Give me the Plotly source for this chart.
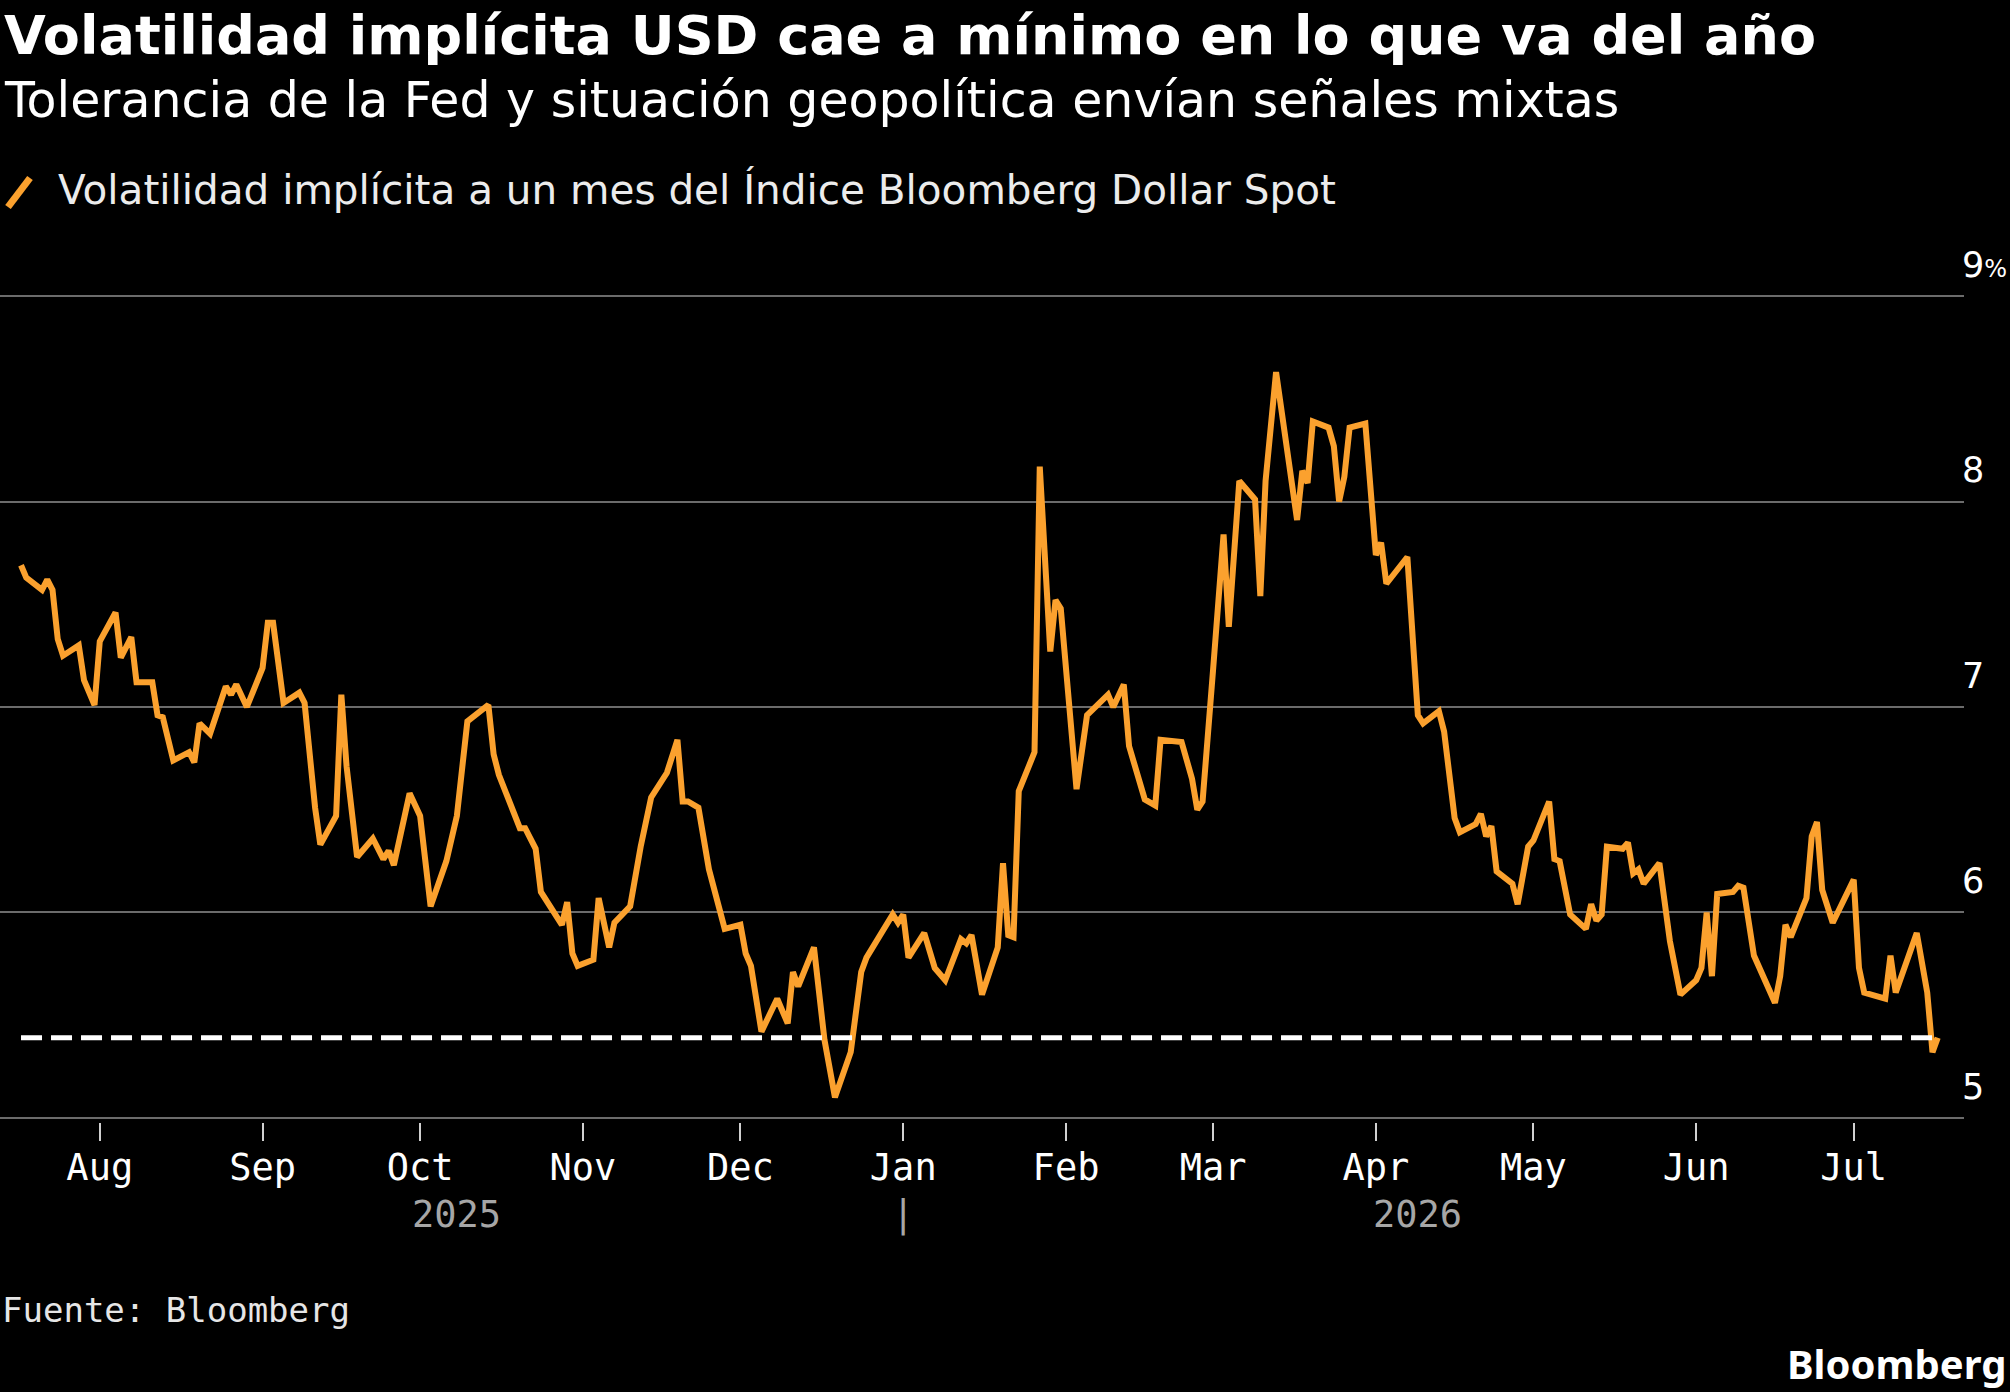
import pandas as pd
import plotly.graph_objects as go

# ---------------- data ----------------
base_date = "2025-08-01"
day_offset = [
    -15, -14, -11, -10, -9, -8, -7, -4, -3, -1, 0, 3, 4, 6, 7, 10, 11, 12, 14, 17,
    18, 19, 21, 24, 25, 26, 28, 31, 32, 33, 35, 38, 39, 41, 42, 45, 46, 47, 49, 52,
    54, 55, 56, 59, 61, 63, 66, 68, 70, 74, 75, 76, 80, 81, 83, 84, 88, 89, 90, 91,
    94, 95, 97, 98, 101, 103, 105, 108, 110, 111, 112, 114, 116, 119, 122, 123, 124, 126, 129, 131,
    132, 133, 136, 138, 140, 143, 145, 146, 151, 152, 153, 154, 157, 159, 161, 164, 165, 166, 168, 170,
    171, 172, 173, 174, 175, 178, 179, 181, 182, 183, 186, 188, 191, 192, 193, 195, 196, 199, 201, 202,
    206, 208, 209, 210, 212, 214, 215, 217, 220, 221, 222, 223, 224, 228, 229, 230, 231, 234, 235, 236,
    237, 238, 241, 243, 244, 245, 249, 251, 252, 255, 256, 258, 259, 262, 263, 264, 265, 266, 269, 270,
    272, 273, 276, 277, 278, 280, 283, 284, 285, 286, 287, 290, 291, 292, 293, 294, 297, 299, 301, 304,
    305, 306, 307, 308, 311, 312, 313, 315, 318, 319, 320, 321, 322, 325, 326, 327, 328, 330, 334, 335,
    336, 340, 341, 342, 346, 348, 349, 350,
]
vol = [
    7.69, 7.63, 7.57, 7.62, 7.57, 7.33, 7.25, 7.30, 7.13, 7.01, 7.32, 7.46, 7.24, 7.34, 7.12, 7.12, 6.96, 6.95, 6.74, 6.78,
    6.73, 6.92, 6.87, 7.10, 7.06, 7.11, 7.00, 7.19, 7.41, 7.41, 7.02, 7.07, 7.02, 6.51, 6.33, 6.47, 7.06, 6.71, 6.27, 6.36,
    6.26, 6.30, 6.23, 6.58, 6.47, 6.03, 6.25, 6.47, 6.93, 7.01, 6.77, 6.67, 6.41, 6.41, 6.31, 6.10, 5.94, 6.05, 5.80, 5.74,
    5.77, 6.07, 5.83, 5.95, 6.03, 6.32, 6.56, 6.68, 6.84, 6.54, 6.54, 6.51, 6.21, 5.92, 5.94, 5.80, 5.74, 5.42, 5.58, 5.46,
    5.71, 5.64, 5.83, 5.38, 5.10, 5.32, 5.71, 5.78, 5.99, 5.95, 5.99, 5.78, 5.90, 5.73, 5.67, 5.87, 5.85, 5.89, 5.60, 5.75,
    5.83, 6.24, 5.89, 5.88, 6.59, 6.78, 8.17, 7.27, 7.52, 7.48, 6.60, 6.96, 7.04, 7.06, 7.00, 7.11, 6.81, 6.55, 6.52, 6.84,
    6.83, 6.65, 6.50, 6.54, 7.18, 7.84, 7.39, 8.10, 8.01, 7.54, 8.10, 8.35, 8.63, 7.91, 8.15, 8.09, 8.39, 8.36, 8.27, 8.00,
    8.12, 8.36, 8.38, 7.74, 7.80, 7.60, 7.73, 6.96, 6.92, 6.98, 6.88, 6.46, 6.39, 6.43, 6.48, 6.37, 6.42, 6.20, 6.14, 6.04,
    6.32, 6.35, 6.54, 6.26, 6.25, 5.99, 5.92, 6.04, 5.96, 5.99, 6.32, 6.31, 6.34, 6.19, 6.21, 6.14, 6.24, 5.86, 5.60, 5.67,
    5.73, 6.00, 5.69, 6.09, 6.10, 6.13, 6.12, 5.79, 5.63, 5.56, 5.69, 5.94, 5.88, 6.07, 6.37, 6.44, 6.11, 5.95, 6.16, 5.73,
    5.61, 5.58, 5.79, 5.61, 5.90, 5.61, 5.32, 5.39,
]
ytd_low = [5.39, 5.39]

month_ticks = ["2025-08-01", "2025-09-01", "2025-10-01", "2025-11-01", "2025-12-01", "2026-01-01",
               "2026-02-01", "2026-03-01", "2026-04-01", "2026-05-01", "2026-06-01", "2026-07-01"]
month_labels = ["Aug", "Sep", "Oct", "Nov", "Dec", "Jan", "Feb", "Mar", "Apr", "May", "Jun", "Jul"]
year_labels = ["2025", "|", "2026"]
year_label_dates = ["2025-10-08", "2026-01-01", "2026-04-09"]
y_ticks = [5, 6, 7, 8, 9]
y_tick_labels = ["5", "6", "7", "8", "9<span style='font-size:24px'>%</span>"]

title = "Volatilidad implícita USD cae a mínimo en lo que va del año"
subtitle = "Tolerancia de la Fed y situación geopolítica envían señales mixtas"
legend_label = "Volatilidad implícita a un mes del Índice Bloomberg Dollar Spot"
source = "Fuente: Bloomberg"

dates = pd.to_datetime(base_date) + pd.to_timedelta(day_offset, unit="D")

ORANGE = "#FBA12E"
W, H = 2010, 1392
ML, MR, MT, MB = 0, 46, 292, 270
PH = H - MT - MB
PW = W - ML - MR


def py(ypx):
    return (H - MB - ypx) / PH


def px(xpx):
    return (xpx - ML) / PW


fig = go.Figure()
fig.add_trace(go.Scatter(
    x=dates, y=vol, mode="lines",
    line=dict(color=ORANGE, width=6, shape="linear"),
    showlegend=False, hoverinfo="skip",
))
fig.add_trace(go.Scatter(
    x=[dates[0], dates[-1]], y=ytd_low, mode="lines",
    line=dict(color="#ffffff", width=5, dash="21px,9px"),
    showlegend=False, hoverinfo="skip",
))

annotations = [
    dict(text=f"<b>{title}</b>", x=px(2), y=py(35), xanchor="left", yanchor="middle",
         font=dict(family="DejaVu Sans", size=54, color="#ffffff")),
    dict(text=subtitle, x=px(2), y=py(101), xanchor="left", yanchor="middle",
         font=dict(family="DejaVu Sans", size=49, color="#ffffff")),
    dict(text=legend_label, x=px(56), y=py(190), xanchor="left", yanchor="middle",
         font=dict(family="DejaVu Sans", size=40.5, color="#ececec")),
    dict(text=source, x=px(0), y=py(1310), xanchor="left", yanchor="middle",
         font=dict(family="DejaVu Sans Mono", size=34, color="#e6e6e6")),
    dict(text="<b>Bloomberg</b>", x=px(2008), y=py(1363), xanchor="right", yanchor="middle",
         font=dict(family="Noto Sans", size=40, color="#ffffff")),
]
for lbl, d in zip(year_labels, year_label_dates):
    annotations.append(dict(text=lbl, x=d, xref="x", y=py(1214), yref="paper",
                            xanchor="center", yanchor="middle", showarrow=False,
                            font=dict(family="DejaVu Sans Mono", size=37, color="#a6a6a6")))
for a in annotations:
    a.setdefault("xref", "paper")
    a.setdefault("yref", "paper")
    a.setdefault("showarrow", False)

fig.update_layout(
    width=W, height=H,
    margin=dict(l=ML, r=MR, t=MT, b=MB, autoexpand=False),
    paper_bgcolor="#000000", plot_bgcolor="#000000",
    annotations=annotations,
    shapes=[dict(type="line", xref="paper", yref="paper",
                 x0=px(8), y0=py(207), x1=px(30), y1=py(178),
                 line=dict(color=ORANGE, width=7))],
    xaxis=dict(
        type="date", range=["2025-07-13", "2026-07-22"],
        tickmode="array", tickvals=month_ticks, ticktext=month_labels,
        ticks="outside", ticklen=18, tickwidth=2, tickcolor="#d0d0d0",
        ticklabelstandoff=-5,
        showgrid=False, zeroline=False, showline=False,
        tickfont=dict(family="DejaVu Sans Mono", size=37, color="#ffffff"),
    ),
    yaxis=dict(
        side="right", range=[4.98, 9.02],
        tickmode="array", tickvals=y_ticks, ticktext=y_tick_labels,
        ticks="", ticklabelposition="outside top", ticklabelshift=-7,
        ticklabelstandoff=-3,
        showgrid=True, gridcolor="#6b6b6b", gridwidth=2,
        zeroline=False, showline=False,
        tickfont=dict(family="DejaVu Sans", size=35, color="#ffffff"),
    ),
)

fig.write_html("out.html")
